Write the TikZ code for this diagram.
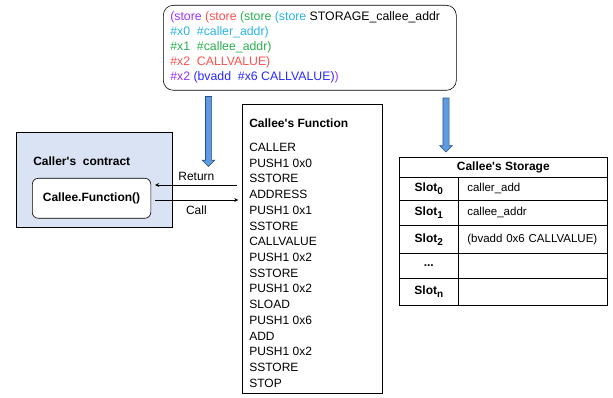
\documentclass[tikz,border=0pt]{standalone}
\usepackage{fontspec}
\setmainfont{Liberation Sans}
\usetikzlibrary{shapes.arrows,arrows.meta}
\definecolor{callerfill}{RGB}{218,227,243}
\definecolor{arrowfill}{RGB}{95,155,225}
\definecolor{arrowline}{RGB}{45,80,130}
\definecolor{cpurple}{RGB}{153,51,255}
\definecolor{cred}{RGB}{255,80,80}
\definecolor{cgreen}{RGB}{40,175,80}
\definecolor{ccyan}{RGB}{40,180,235}
\definecolor{cblue}{RGB}{40,40,255}
\newcommand{\slotnum}[1]{\raisebox{-3pt}{\fontsize{10}{10}\selectfont #1}}

\begin{document}
\begin{tikzpicture}[x=1pt,y=-1pt,line width=0.6pt,
  every node/.style={font=\fontsize{12}{15}\selectfont},
  box/.style={draw,anchor=north west,inner sep=0pt},
  keycell/.style={draw,anchor=north west,inner sep=0pt,minimum width=59pt,font=\fontsize{12}{14}\selectfont\bfseries},
  valcell/.style={draw,anchor=north west,inner xsep=9pt,inner ysep=0pt,text width=131pt,font=\fontsize{11.5}{14}\selectfont},
  bigarrow/.style={single arrow,draw=arrowline,fill=arrowfill,shape border rotate=270,
    inner sep=2.75pt,minimum width=12pt,single arrow head extend=3.25pt,minimum height=#1},
  flow/.style={-{Stealth[length=4pt,width=4pt]}}]
\useasboundingbox (0,0) rectangle (613,398);

% smt expression
\node[box,rounded corners=10pt,minimum width=293pt,minimum height=85pt] (smt) at (163,5) {};
\node[anchor=north west,align=left,inner sep=0pt,font=\fontsize{12.3}{15}\selectfont] (smttext) at (170,11) {%
\textcolor{cpurple}{(store} \textcolor{cred}{(store} \textcolor{cgreen}{(store} \textcolor{ccyan}{(store} STORAGE\_callee\_addr\\
\textcolor{ccyan}{\#x0~ \#caller\_addr)}\\
\textcolor{cgreen}{\#x1~ \#callee\_addr)}\\
\textcolor{cred}{\#x2~ CALLVALUE)}\\
\textcolor{cpurple}{\#x2} \textcolor{cblue}{(bvadd~ \#x6 CALLVALUE)}\textcolor{cpurple}{)}};

\node[bigarrow=70pt] (smtcaller) at (208.5,130) {};
\node[bigarrow=54pt] (smtstore) at (446,123.5) {};

% caller
\node[box,fill=callerfill,minimum width=156pt,minimum height=95.5pt] (caller) at (16,132) {};
\node[anchor=west,inner sep=0pt,font=\fontsize{12}{15}\selectfont\bfseries] (callertitle) at (33,161) {Caller\textquotesingle s~ contract};
\node[box,fill=white,rounded corners=6pt,minimum width=118.5pt,minimum height=40pt,font=\fontsize{12}{15}\selectfont\bfseries] (fn) at (32,178) {Callee.Function()};

% callee
\node[box,minimum width=140.5pt,minimum height=289pt] (callee) at (241.7,104) {};
\node[anchor=west,inner sep=0pt,font=\fontsize{12}{15}\selectfont\bfseries] (calleetitle) at (249,123) {Callee\textquotesingle s Function};
\node[anchor=north west,align=left,inner sep=0pt,font=\fontsize{12}{15.73}\selectfont] (ops) at (249,142.7) {%
CALLER\\ PUSH1 0x0\\ SSTORE\\ ADDRESS\\ PUSH1 0x1\\ SSTORE\\ CALLVALUE\\ PUSH1 0x2\\
SSTORE\\ PUSH1 0x2\\ SLOAD\\ PUSH1 0x6\\ ADD\\ PUSH1 0x2\\ SSTORE\\ STOP};

\coordinate (retlvl) at (0,185);
\coordinate (calllvl) at (0,200);
\draw[flow,shorten <=5pt,shorten >=4pt] (callee.west |- retlvl) -- (fn.east |- retlvl)
  node[midway,above=1pt] {Return};
\draw[flow,shorten <=4pt,shorten >=3.5pt] (fn.east |- calllvl) -- (callee.west |- calllvl)
  node[midway,below=2.5pt] {Call};

% storage
\node[box,minimum width=208pt,minimum height=20.3pt,font=\fontsize{12}{14}\selectfont\bfseries] (sthead) at (399,157) {Callee\textquotesingle s Storage};
\node[keycell,minimum height=22.7pt] (key0) at (399,177.3) {Slot\slotnum{0}};
\node[valcell,minimum height=22.7pt] (val0) at (458,177.3) {caller\_add};
\node[keycell,minimum height=25pt] (key1) at (399,200) {Slot\slotnum{1}};
\node[valcell,minimum height=25pt] (val1) at (458,200) {callee\_addr};
\node[keycell,minimum height=28.3pt] (key2) at (399,225) {Slot\slotnum{2}};
\node[valcell,minimum height=28.3pt] (val2) at (458,225) {(bvadd 0x6 CALLVALUE)};
\node[keycell,minimum height=25pt] (keyd) at (399,253.3) {...};
\node[valcell,minimum height=25pt] (vald) at (458,253.3) {};
\node[keycell,minimum height=26.7pt] (keyn) at (399,278.3) {Slot\slotnum{n}};
\node[valcell,minimum height=26.7pt] (valn) at (458,278.3) {};
\end{tikzpicture}
\end{document}
